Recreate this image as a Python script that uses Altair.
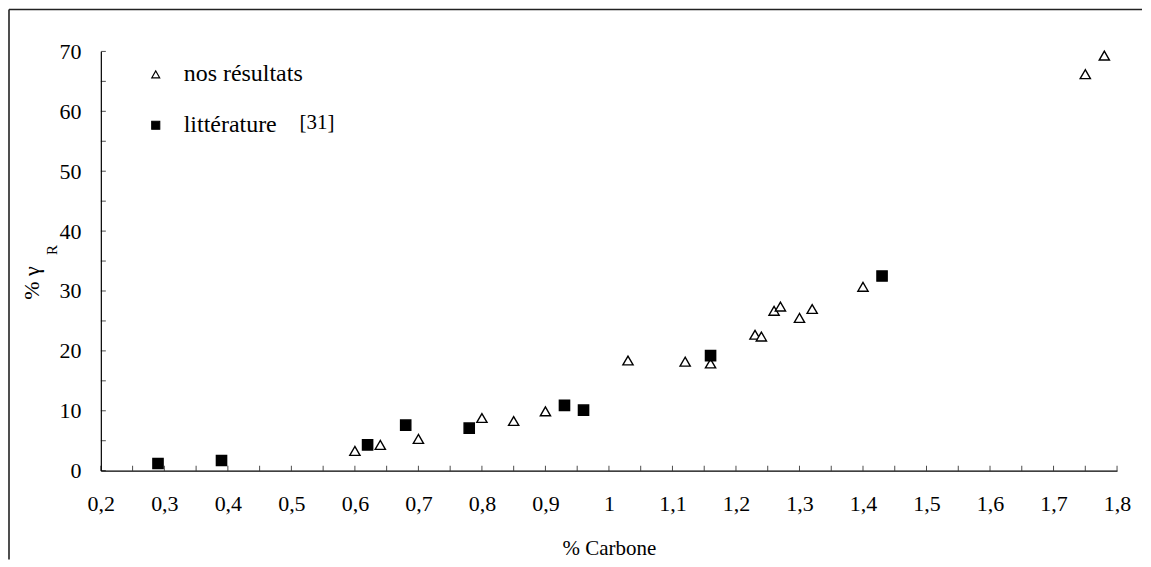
import altair as alt
import pandas as pd

# ---- data ----
carbone_nos = [0.60, 0.64, 0.70, 0.80, 0.85, 0.90, 1.03, 1.12, 1.16, 1.23, 1.24,
               1.26, 1.27, 1.30, 1.32, 1.40, 1.75, 1.78]
gamma_nos = [3.3, 4.3, 5.3, 8.8, 8.3, 9.9, 18.4, 18.2, 17.9, 22.7, 22.4,
             26.7, 27.4, 25.5, 27.0, 30.7, 66.2, 69.3]
carbone_lit = [0.29, 0.39, 0.62, 0.68, 0.78, 0.93, 0.96, 1.16, 1.43]
gamma_lit = [1.2, 1.7, 4.3, 7.6, 7.1, 10.9, 10.1, 19.2, 32.5]
series_names = ["nos résultats", "littérature"]
ref_label = "[31]"
x_title = "% Carbone"
y_title = "%  γ"
y_sub = "R"

x_tick_values = [0.2, 0.3, 0.4, 0.5, 0.6, 0.7, 0.8, 0.9, 1.0, 1.1, 1.2,
                 1.3, 1.4, 1.5, 1.6, 1.7, 1.8]
x_minor_ticks = [0.2, 0.25, 0.3, 0.35, 0.4, 0.45, 0.5, 0.55, 0.6, 0.65, 0.7,
                 0.75, 0.8, 0.85, 0.9, 0.95, 1.0, 1.05, 1.1, 1.15, 1.2, 1.25,
                 1.3, 1.35, 1.4, 1.45, 1.5, 1.55, 1.6, 1.65, 1.7, 1.75, 1.8]
y_tick_values = [0, 10, 20, 30, 40, 50, 60, 70]
y_minor_ticks = [0, 5, 10, 15, 20, 25, 30, 35, 40, 45, 50, 55, 60, 65, 70]

FONT = "Liberation Serif, Times New Roman, DejaVu Serif, serif"

pts = pd.DataFrame({
    "c": carbone_nos + carbone_lit,
    "g": gamma_nos + gamma_lit,
    "serie": [series_names[0]] * len(carbone_nos) + [series_names[1]] * len(carbone_lit),
})

xscale = alt.Scale(domain=[0.2, 1.8], nice=False, zero=False)
yscale = alt.Scale(domain=[0, 70], nice=False)

points = alt.Chart(pts).mark_point(
    filled=True, strokeWidth=1.4, opacity=1, size=105
).encode(
    x=alt.X("c:Q", scale=xscale,
            axis=alt.Axis(values=x_tick_values, labelFlush=False, labelPadding=23,
                          labelExpr="replace(toString(round(datum.value*10)/10), '.', ',')",
                          title=x_title)),
    y=alt.Y("g:Q", scale=yscale,
            axis=alt.Axis(values=y_tick_values, labelFlush=False, labelPadding=20,
                          title=None)),
    shape=alt.Shape("serie:N",
                    scale=alt.Scale(domain=series_names, range=["triangle-up", "square"]),
                    legend=alt.Legend(title=None, orient="none", legendX=43, legendY=11,
                                      labelFont=FONT, labelFontSize=24, labelColor="black",
                                      labelOffset=16, rowPadding=27, symbolSize=65,
                                      symbolStrokeWidth=1.1, padding=0)),
    fill=alt.Fill("serie:N",
                  scale=alt.Scale(domain=series_names, range=["white", "black"])),
    stroke=alt.Stroke("serie:N",
                      scale=alt.Scale(domain=series_names, range=["black", "black"])),
)

xt = pd.DataFrame({"v": x_minor_ticks})
x_ticks = alt.Chart(xt).mark_tick(
    orient="vertical", size=5, thickness=1, color="black", yOffset=-2.5
).encode(x=alt.X("v:Q", scale=xscale), y=alt.datum(0))

yt = pd.DataFrame({"v": y_minor_ticks})
y_ticks = alt.Chart(yt).mark_tick(
    orient="horizontal", size=5, thickness=1, color="black", xOffset=2.5
).encode(y=alt.Y("v:Q", scale=yscale), x=alt.datum(0.2))

lab = pd.DataFrame({"t": [y_title]})
ytitle = alt.Chart(lab).mark_text(
    font=FONT, fontSize=22, angle=270, color="black", baseline="middle", align="center"
).encode(text="t:N", x=alt.value(-69), y=alt.value(232))

sub = pd.DataFrame({"t": [y_sub]})
ysub = alt.Chart(sub).mark_text(
    font=FONT, fontSize=15, angle=270, color="black", baseline="middle", align="center"
).encode(text="t:N", x=alt.value(-49), y=alt.value(199))

ref = pd.DataFrame({"t": [ref_label]})
reftext = alt.Chart(ref).mark_text(
    font=FONT, fontSize=21, color="black", baseline="middle", align="left"
).encode(text="t:N", x=alt.value(199), y=alt.value(72))

frame_left = alt.Chart(lab).mark_rule(color="#222", strokeWidth=1.6).encode(
    x=alt.value(-92), y=alt.value(-42), y2=alt.value(509))
frame_top = alt.Chart(lab).mark_rule(color="#222", strokeWidth=1.6).encode(
    x=alt.value(-92), x2=alt.value(1043), y=alt.value(-42))

chart = alt.layer(
    points, x_ticks, y_ticks, ytitle, ysub, reftext, frame_left, frame_top
).properties(
    width=1018, height=420, padding=0, background="white"
).configure_view(stroke=None).configure_axis(
    ticks=False, tickSize=0, grid=False, domainColor="black", domainWidth=1.2,
    labelFont=FONT, labelFontSize=22, labelColor="black",
    titleFont=FONT, titleFontSize=21, titleFontWeight="normal", titleColor="black",
    titlePadding=23
)

chart.save("out.html", embed_options={"renderer": "svg", "actions": False})
